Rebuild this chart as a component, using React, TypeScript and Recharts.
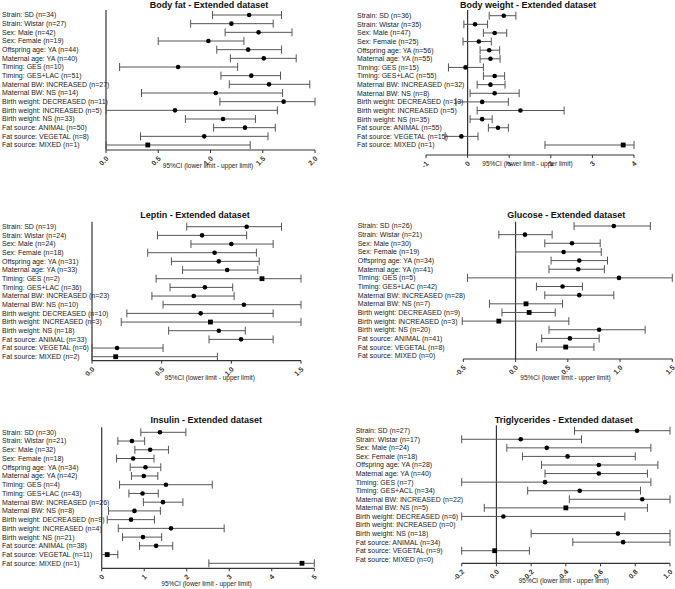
import { ScatterChart, Scatter, XAxis, YAxis, ErrorBar, ReferenceLine } from 'recharts'

const FONT = '"Liberation Sans", Arial, Helvetica, sans-serif'
const AXIS_COLOR = '#333'
const BAR_COLOR = '#555'
const XAXIS_H = 20

// ---------------------------------------------------------------------------
// Data (estimate, lower CI, upper CI)
// ---------------------------------------------------------------------------

const bodyFatLabels = [
  'Strain: SD (n=34)', 'Strain: Wistar (n=27)', 'Sex: Male (n=42)', 'Sex: Female (n=19)',
  'Offspring age: YA (n=44)', 'Maternal age: YA (n=40)', 'Timing: GES (n=10)', 'Timing: GES+LAC (n=51)',
  'Maternal BW: INCREASED (n=27)', 'Maternal BW: NS (n=14)', 'Birth weight: DECREASED (n=11)',
  'Birth weight: INCREASED (n=5)', 'Birth weight: NS (n=33)', 'Fat source: ANIMAL (n=50)',
  'Fat source: VEGETAL (n=8)', 'Fat source: MIXED (n=1)',
]
const bodyFatEst = [1.37, 1.2, 1.46, 0.98, 1.36, 1.51, 0.69, 1.39, 1.56, 1.05, 1.7, 0.66, 1.12, 1.33, 0.94, 0.4]
const bodyFatLo = [1.02, 0.81, 1.14, 0.5, 1.06, 1.19, 0.13, 1.1, 1.18, 0.34, 1.09, 0, 0.76, 1.03, 0.33, 0]
const bodyFatHi = [1.68, 1.6, 1.78, 1.32, 1.68, 1.82, 1.26, 1.67, 1.95, 1.69, 2.0, 1.64, 1.43, 1.62, 1.55, 1.38]

const bodyWeightLabels = [
  'Strain: SD (n=36)', 'Strain: Wistar (n=35)', 'Sex: Male (n=47)', 'Sex: Female (n=25)',
  'Offspring age: YA (n=56)', 'Maternal age: YA (n=55)', 'Timing: GES (n=15)', 'Timing: GES+LAC (n=55)',
  'Maternal BW: INCREASED (n=32)', 'Maternal BW: NS (n=8)', 'Birth weight: DECREASED (n=13)',
  'Birth weight: INCREASED (n=5)', 'Birth weight: NS (n=35)', 'Fat source: ANIMAL (n=55)',
  'Fat source: VEGETAL (n=15)', 'Fat source: MIXED (n=1)',
]
const bodyWeightEst = [0.87, 0.18, 0.65, 0.27, 0.52, 0.55, -0.05, 0.65, 0.55, 0.65, 0.35, 1.27, 0.35, 0.73, -0.15, 3.74]
const bodyWeightLo = [0.52, -0.09, 0.38, -0.11, 0.3, 0.3, -0.46, 0.38, 0.23, 0.06, -0.28, 0.23, 0.06, 0.5, -0.54, 1.86]
const bodyWeightHi = [1.16, 0.48, 0.94, 0.57, 0.77, 0.78, 0.38, 0.89, 0.9, 1.24, 0.98, 2.32, 0.59, 0.98, 0.25, 4.0]

const leptinLabels = [
  'Strain: SD (n=19)', 'Strain: Wistar (n=24)', 'Sex: Male (n=24)', 'Sex: Female (n=18)',
  'Offspring age: YA (n=31)', 'Maternal age: YA (n=33)', 'Timing: GES (n=2)', 'Timing: GES+LAC (n=36)',
  'Maternal BW: INCREASED (n=23)', 'Maternal BW: NS (n=10)', 'Birth weight: DECREASED (n=10)',
  'Birth weight: INCREASED (n=3)', 'Birth weight: NS (n=18)', 'Fat source: ANIMAL (n=33)',
  'Fat source: VEGETAL (n=6)', 'Fat source: MIXED (n=2)',
]
const leptinEst = [1.11, 0.79, 1.0, 0.88, 0.91, 0.97, 1.22, 0.81, 0.73, 1.09, 0.78, 0.85, 0.91, 1.07, 0.18, 0.17]
const leptinLo = [0.68, 0.47, 0.71, 0.4, 0.57, 0.65, 0.46, 0.56, 0.43, 0.51, 0.25, 0.21, 0.55, 0.84, 0, 0]
const leptinHi = [1.36, 1.11, 1.3, 1.18, 1.2, 1.19, 1.5, 1.01, 1.02, 1.5, 1.3, 1.5, 1.1, 1.3, 0.51, 0.9]

const glucoseLabels = [
  'Strain: SD (n=26)', 'Strain: Wistar (n=21)', 'Sex: Male (n=30)', 'Sex: Female (n=19)',
  'Offspring age: YA (n=34)', 'Maternal age: YA (n=41)', 'Timing: GES (n=5)', 'Timing: GES+LAC (n=42)',
  'Maternal BW: INCREASED (n=28)', 'Maternal BW: NS (n=7)', 'Birth weight: DECREASED (n=9)',
  'Birth weight: INCREASED (n=3)', 'Birth weight: NS (n=20)', 'Fat source: ANIMAL (n=41)',
  'Fat source: VEGETAL (n=8)', 'Fat source: MIXED (n=0)',
]
const glucoseEst = [0.94, 0.09, 0.54, 0.46, 0.61, 0.6, 0.99, 0.45, 0.61, 0.1, 0.13, -0.16, 0.8, 0.52, 0.48, null]
const glucoseLo = [0.56, -0.16, 0.28, 0, 0.34, 0.32, -0.46, 0.2, 0.28, -0.25, -0.13, -0.51, 0.32, 0.25, 0.2, null]
const glucoseHi = [1.29, 0.35, 0.81, 0.82, 0.88, 0.85, 1.5, 0.64, 0.94, 0.45, 0.38, 0.51, 1.24, 0.8, 0.75, null]

const insulinLabels = [
  'Strain: SD (n=30)', 'Strain: Wistar (n=21)', 'Sex: Male (n=32)', 'Sex: Female (n=18)',
  'Offspring age: YA (n=34)', 'Maternal age: YA (n=42)', 'Timing: GES (n=4)', 'Timing: GES+LAC (n=43)',
  'Maternal BW: INCREASED (n=26)', 'Maternal BW: NS (n=8)', 'Birth weight: DECREASED (n=9)',
  'Birth weight: INCREASED (n=4)', 'Birth weight: NS (n=21)', 'Fat source: ANIMAL (n=38)',
  'Fat source: VEGETAL (n=11)', 'Fat source: MIXED (n=1)',
]
const insulinEst = [1.37, 0.71, 1.14, 0.74, 1.03, 0.99, 1.51, 0.96, 1.44, 0.77, 0.69, 1.63, 0.97, 1.28, 0.13, 4.71]
const insulinLo = [0.92, 0.38, 0.78, 0.35, 0.67, 0.7, 0.42, 0.64, 0.98, 0.16, 0.13, 0.39, 0.49, 0.89, 0, 2.52]
const insulinHi = [1.98, 1.01, 1.57, 1.23, 1.39, 1.32, 2.6, 1.33, 1.91, 1.38, 1.24, 2.88, 1.41, 1.67, 0.38, 5.0]

const trigLabels = [
  'Strain: SD (n=27)', 'Strain: Wistar (n=17)', 'Sex: Male (n=24)', 'Sex: Female (n=18)',
  'Offspring age: YA (n=28)', 'Maternal age: YA (n=40)', 'Timing: GES (n=7)', 'Timing: GES+ACL (n=34)',
  'Maternal BW: INCREASED (n=22)', 'Maternal BW: NS (n=5)', 'Birth weight: DECREASED (n=6)',
  'Birth weight: INCREASED (n=0)', 'Birth weight: NS (n=18)', 'Fat source: ANIMAL (n=34)',
  'Fat source: VEGETAL (n=9)', 'Fat source: MIXED (n=0)',
]
const trigEst = [0.81, 0.14, 0.29, 0.41, 0.59, 0.59, 0.28, 0.48, 0.84, 0.4, 0.04, null, 0.7, 0.73, -0.01, null]
const trigLo = [0.45, -0.2, 0.06, 0.15, 0.26, 0.28, -0.2, 0.18, 0.42, -0.07, -0.2, null, 0.2, 0.44, -0.2, null]
const trigHi = [1.0, 0.49, 0.89, 0.8, 0.93, 0.87, 0.89, 0.83, 1.0, 0.87, 0.74, null, 1.0, 1.0, 0.19, null]

// axis ticks
const bodyFatTicks = [0, 0.5, 1, 1.5, 2]
const bodyWeightTicks = [-1, 0, 1, 2, 3, 4]
const leptinTicks = [0, 0.5, 1, 1.5]
const glucoseTicks = [-0.5, 0, 0.5, 1, 1.5]
const insulinTicks = [0, 1, 2, 3, 4, 5]
const trigTicks = [-0.2, 0, 0.2, 0.4, 0.6, 0.8, 1.0]

const CAPTION = '95%CI (lower limit - upper limit)'

type Row = { row: number; est: number; err: [number, number] }

function buildRows(est: (number | null)[], lo: (number | null)[], hi: (number | null)[]): Row[] {
  const rows: Row[] = []
  est.forEach((e, i) => {
    if (e == null || lo[i] == null || hi[i] == null) return
    rows.push({ row: i, est: e, err: [e - (lo[i] as number), (hi[i] as number) - e] })
  })
  return rows
}

const fixed1 = (v: number) => v.toFixed(1)
const plain = (v: number) => String(v)

interface PanelProps {
  title: string
  labels: string[]
  data: Row[]
  squares: number[]
  domain: [number, number]
  ticks: number[]
  fmt: (v: number) => string
  x0: number
  y0: number
  w: number
  h: number
  plotLeft: number
  plotRight: number
  plotTop: number
  plotBottom: number
  row0Y: number
  rowLastY: number
  labelX: number
  titleX: number
  titleY: number
  captionX: number
  captionY: number
}

function ForestPanel(p: PanelProps) {
  const n = p.labels.length
  const s = (p.rowLastY - p.row0Y) / (n - 1)
  const yDomain: [number, number] = [
    (p.plotTop - p.row0Y) / s,
    n - 1 + (p.plotBottom - p.rowLastY) / s,
  ]
  const rows = p.labels.map((_, i) => i)

  const LabelTick = (t: any) => (
    <text
      x={p.labelX - p.x0}
      y={t.y}
      dy="0.35em"
      fontSize={7}
      fontFamily={FONT}
      fill="#222"
      textAnchor="start"
    >
      {p.labels[t.payload.value]}
    </text>
  )

  const XTick = (t: any) => (
    <g transform={`translate(${t.x + 3},${t.y + 6})`}>
      <text
        textAnchor="end"
        transform="rotate(-45)"
        fontSize={7}
        fontWeight="bold"
        fontFamily={FONT}
        fill="#333"
      >
        {p.fmt(t.payload.value)}
      </text>
    </g>
  )

  const Marker = (m: any) => {
    const sq = p.squares.includes(m.payload.row)
    return sq ? (
      <rect x={m.cx - 2.4} y={m.cy - 2.4} width={4.8} height={4.8} fill="#000" />
    ) : (
      <circle cx={m.cx} cy={m.cy} r={2.3} fill="#000" />
    )
  }

  return (
    <>
      <div
        style={{
          position: 'absolute',
          left: p.titleX,
          top: p.titleY - 6,
          transform: 'translateX(-50%)',
          whiteSpace: 'nowrap',
          fontFamily: FONT,
          fontSize: 9,
          fontWeight: 'bold',
          lineHeight: '12px',
          color: '#111',
        }}
      >
        {p.title}
      </div>
      <div style={{ position: 'absolute', left: p.x0, top: p.y0 }}>
        <ScatterChart
          width={p.w}
          height={p.h}
          style={{ overflow: 'visible' }}
          margin={{
            top: p.plotTop - p.y0,
            right: p.x0 + p.w - p.plotRight,
            bottom: p.y0 + p.h - p.plotBottom - XAXIS_H,
            left: 0,
          }}
        >
          <XAxis
            type="number"
            dataKey="est"
            domain={p.domain}
            ticks={p.ticks}
            allowDataOverflow
            height={XAXIS_H}
            tickSize={3}
            tickMargin={0}
            axisLine={{ stroke: AXIS_COLOR, strokeWidth: 1.2 }}
            tickLine={{ stroke: AXIS_COLOR, strokeWidth: 1 }}
            tick={XTick}
            interval={0}
          />
          <YAxis
            type="number"
            dataKey="row"
            domain={yDomain}
            reversed
            allowDataOverflow
            ticks={rows}
            interval={0}
            width={p.plotLeft - p.x0}
            axisLine={false}
            tickLine={false}
            tick={LabelTick}
          />
          <ReferenceLine x={0} stroke={AXIS_COLOR} strokeWidth={1.2} />
          <Scatter data={p.data} shape={Marker} isAnimationActive={false}>
            <ErrorBar dataKey="err" direction="x" width={4} stroke={BAR_COLOR} strokeWidth={1} />
          </Scatter>
        </ScatterChart>
      </div>
      <div
        style={{
          position: 'absolute',
          left: p.captionX,
          top: p.captionY - 5,
          transform: 'translateX(-50%)',
          whiteSpace: 'nowrap',
          fontFamily: FONT,
          fontSize: 6.5,
          lineHeight: '10px',
          color: '#222',
        }}
      >
        {CAPTION}
      </div>
    </>
  )
}

export default function App() {
  return (
    <div
      style={{
        position: 'absolute',
        left: 0,
        top: 0,
        width: 675,
        height: 589,
        background: '#fff',
        overflow: 'hidden',
      }}
    >
      <ForestPanel
        title="Body fat - Extended dataset"
        labels={bodyFatLabels}
        data={buildRows(bodyFatEst, bodyFatLo, bodyFatHi)}
        squares={[15]}
        domain={[0, 2]}
        ticks={bodyFatTicks}
        fmt={fixed1}
        x0={0} y0={0} w={335} h={190}
        plotLeft={106} plotRight={315} plotTop={10} plotBottom={150}
        row0Y={15} rowLastY={145}
        labelX={2}
        titleX={209} titleY={5}
        captionX={208} captionY={166}
      />
      <ForestPanel
        title="Body weight - Extended dataset"
        labels={bodyWeightLabels}
        data={buildRows(bodyWeightEst, bodyWeightLo, bodyWeightHi)}
        squares={[15]}
        domain={[-1, 4]}
        ticks={bodyWeightTicks}
        fmt={plain}
        x0={335} y0={0} w={340} h={190}
        plotLeft={426} plotRight={634} plotTop={10} plotBottom={155}
        row0Y={15.7} rowLastY={145}
        labelX={357}
        titleX={528} titleY={5}
        captionX={527.5} captionY={164}
      />
      <ForestPanel
        title="Leptin - Extended dataset"
        labels={leptinLabels}
        data={buildRows(leptinEst, leptinLo, leptinHi)}
        squares={[6, 11, 15]}
        domain={[0, 1.5]}
        ticks={leptinTicks}
        fmt={fixed1}
        x0={0} y0={195} w={335} h={195}
        plotLeft={92} plotRight={301} plotTop={221.7} plotBottom={360.7}
        row0Y={226.7} rowLastY={356.7}
        labelX={2}
        titleX={195} titleY={215}
        captionX={209.7} captionY={377.7}
      />
      <ForestPanel
        title="Glucose - Extended dataset"
        labels={glucoseLabels}
        data={buildRows(glucoseEst, glucoseLo, glucoseHi)}
        squares={[9, 10, 11, 14]}
        domain={[-0.5, 1.5]}
        ticks={glucoseTicks}
        fmt={fixed1}
        x0={335} y0={195} w={340} h={195}
        plotLeft={463.3} plotRight={672.3} plotTop={221.7} plotBottom={359}
        row0Y={226} rowLastY={355.7}
        labelX={357.7}
        titleX={566.3} titleY={215}
        captionX={565.5} captionY={377.7}
      />
      <ForestPanel
        title="Insulin - Extended dataset"
        labels={insulinLabels}
        data={buildRows(insulinEst, insulinLo, insulinHi)}
        squares={[14, 15]}
        domain={[0, 5]}
        ticks={insulinTicks}
        fmt={plain}
        x0={0} y0={390} w={335} h={199}
        plotLeft={101.7} plotRight={314.3} plotTop={427.3} plotBottom={568.3}
        row0Y={432.3} rowLastY={563.3}
        labelX={2}
        titleX={206.2} titleY={420}
        captionX={206.5} captionY={583.8}
      />
      <ForestPanel
        title="Triglycerides - Extended dataset"
        labels={trigLabels}
        data={buildRows(trigEst, trigLo, trigHi)}
        squares={[9, 14]}
        domain={[-0.2, 1.0]}
        ticks={trigTicks}
        fmt={fixed1}
        x0={335} y0={390} w={340} h={199}
        plotLeft={461.7} plotRight={670} plotTop={425.3} plotBottom={563.3}
        row0Y={430.7} rowLastY={559.3}
        labelX={355.7}
        titleX={563.7} titleY={420}
        captionX={563.8} captionY={581}
      />
    </div>
  )
}
